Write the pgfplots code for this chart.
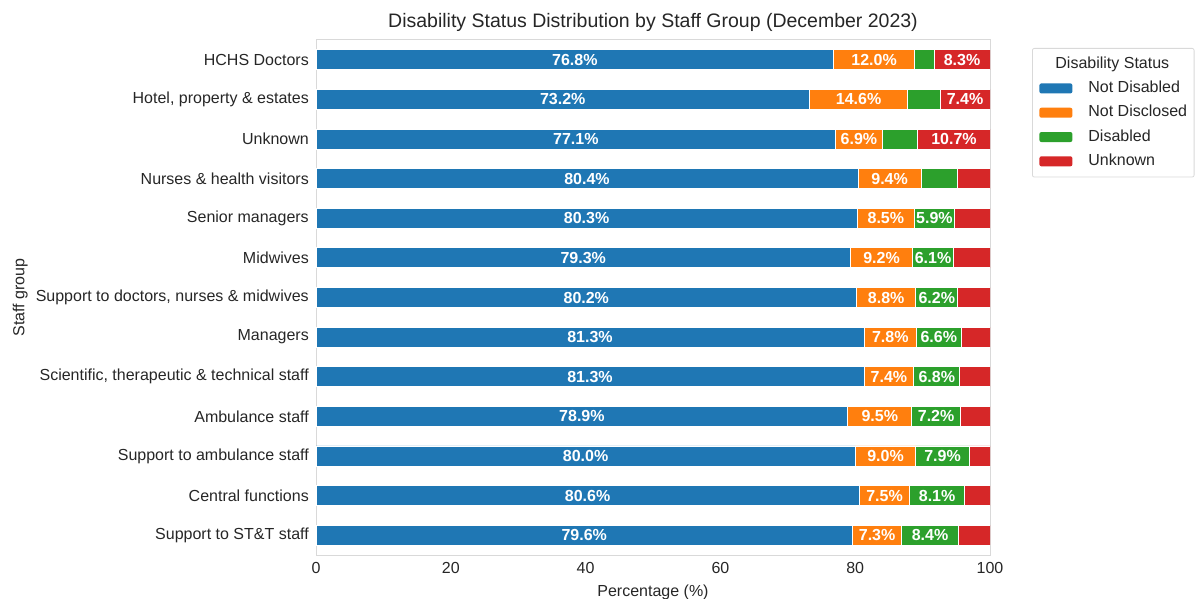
\documentclass[border=0pt]{standalone}
\usepackage{pgfplots}
\usepackage{pgfplotstable}
\pgfplotsset{compat=1.18}
\usepackage{fontspec}
\setmainfont{Liberation Sans}
\definecolor{cblue}{HTML}{1F77B4}
\definecolor{corange}{HTML}{FF7F0E}
\definecolor{cgreen}{HTML}{2CA02C}
\definecolor{cred}{HTML}{D62728}
\definecolor{txt}{HTML}{262626}
\definecolor{framec}{HTML}{D9D9D9}
\pgfplotstableread{
y nd nc d u
0 76.8 12.0 2.9 8.3
1 73.2 14.6 4.8 7.4
2 77.1 6.9 5.3 10.7
3 80.4 9.4 5.3 4.9
4 80.3 8.5 5.9 5.3
5 79.3 9.2 6.1 5.4
6 80.2 8.8 6.2 4.8
7 81.3 7.8 6.6 4.3
8 81.3 7.4 6.8 4.5
9 78.9 9.5 7.2 4.4
10 80.0 9.0 7.9 3.1
11 80.6 7.5 8.1 3.8
12 79.6 7.3 8.4 4.7
}\datatable
\newcommand{\fs}{\fontsize{16bp}{19bp}\selectfont}
\pgfplotsset{
  common/.style={
    at={(316bp,44bp)}, anchor=south west,
    scale only axis, width=674bp, height=515bp,
    xmin=0, xmax=100, ymin=-0.5, ymax=12.5, y dir=reverse,
  },
  seglabel/.style={
    draw=none, mark=none, point meta=explicit symbolic,
    nodes near coords={\ifdim\pgfplotspointmeta pt>5.5pt \pgfplotspointmeta\%\fi},
    every node near coord/.append style={anchor=center, font=\bfseries\fs, text=white, inner sep=0pt},
  },
}
\begin{document}
\begin{tikzpicture}[x=1bp,y=1bp]
\useasboundingbox (0,0) rectangle (1195,599);
\begin{axis}[
  common,
  xbar stacked, bar width=20bp,
  ytick={0,...,12},
  yticklabels={HCHS Doctors,{Hotel, property \& estates},Unknown,Nurses \& health visitors,Senior managers,Midwives,{Support to doctors, nurses \& midwives},Managers,{Scientific, therapeutic \& technical staff},Ambulance staff,Support to ambulance staff,Central functions,Support to ST\&T staff},
  xtick={0,20,40,60,80,100},
  /pgf/number format/assume math mode=true,
  tick style={draw=none},
  axis line style={draw=framec, line width=1bp},
  ticklabel style={font=\fs, text=txt},
  yticklabel style={xshift=-3.7bp},
  xticklabel style={yshift=-3.7bp},
  title={Disability Status Distribution by Staff Group (December 2023)},
  title style={at={(axis description cs:0.5,1)}, anchor=base, yshift=7bp, font=\fontsize{19.5bp}{23bp}\selectfont, text=txt},
  xlabel={Percentage (\%)},
  xlabel style={at={(axis description cs:0.5,0)}, anchor=base, yshift=-41bp, font=\fs, text=txt},
  ylabel={Staff group},
  every axis y label/.style={at={(axis description cs:-0.4325,0.5)}, rotate=90, anchor=base, font=\fs, text=txt},
  every axis plot/.append style={draw=white, line width=0.8bp},
  legend style={at={(1.0623,0.9845)}, anchor=north west, draw=framec, rounded corners=2bp, line width=0.8bp,
    font=\fs, text=txt, inner xsep=7bp, inner ysep=8bp, row sep=8.8bp, column sep=0bp,
    nodes={text height=12bp, text depth=3.5bp, inner ysep=0bp, inner xsep=0bp},
    /tikz/every odd column/.append style={column sep=16bp}},
  legend cell align=left,
  legend image code/.code={\fill[#1, draw=none] (0bp,-5bp) rectangle (33bp,5bp);},
]
\addlegendimage{empty legend}
\addlegendentry{\hspace*{-33bp}Disability Status}
\addplot[fill=cblue] table[x=nd,y=y]{\datatable};
\addlegendentry{Not Disabled}
\addplot[fill=corange] table[x=nc,y=y]{\datatable};
\addlegendentry{Not Disclosed}
\addplot[fill=cgreen] table[x=d,y=y]{\datatable};
\addlegendentry{Disabled}
\addplot[fill=cred] table[x=u,y=y]{\datatable};
\addlegendentry{Unknown}
\end{axis}
\begin{axis}[common, hide axis]
\addplot[seglabel] table[x expr=\thisrow{nd}/2, y=y, meta=nd]{\datatable};
\addplot[seglabel] table[x expr=\thisrow{nd}+\thisrow{nc}/2, y=y, meta=nc]{\datatable};
\addplot[seglabel] table[x expr=\thisrow{nd}+\thisrow{nc}+\thisrow{d}/2, y=y, meta=d]{\datatable};
\addplot[seglabel] table[x expr=\thisrow{nd}+\thisrow{nc}+\thisrow{d}+\thisrow{u}/2, y=y, meta=u]{\datatable};
\end{axis}
\end{tikzpicture}
\end{document}
